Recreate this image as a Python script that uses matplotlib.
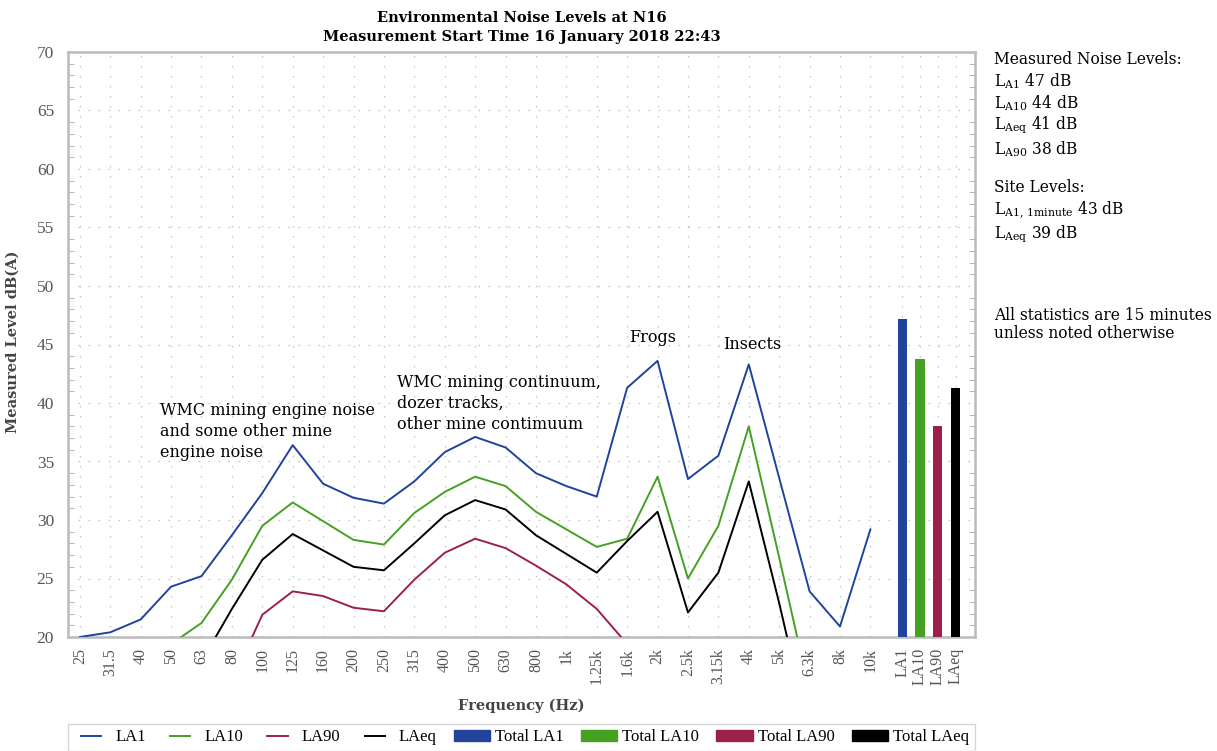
import numpy as np
import matplotlib
matplotlib.use("Agg")
import matplotlib.pyplot as plt
from matplotlib.patches import Patch
from matplotlib.lines import Line2D
from matplotlib.legend_handler import HandlerLine2D
from matplotlib.ticker import MultipleLocator

nan = np.nan
freqs = ['25', '31.5', '40', '50', '63', '80', '100', '125', '160', '200', '250',
         '315', '400', '500', '630', '800', '1k', '1.25k', '1.6k', '2k', '2.5k',
         '3.15k', '4k', '5k', '6.3k', '8k', '10k']
la1 = [20.0, 20.4, 21.5, 24.3, 25.2, 28.7, 32.3, 36.4, 33.1, 31.9, 31.4, 33.3,
       35.8, 37.1, 36.2, 34.0, 32.9, 32.0, 41.3, 43.6, 33.5, 35.5, 43.3, 33.6,
       23.9, 20.9, 29.2]
la10 = [nan, nan, nan, 19.4, 21.2, 24.9, 29.5, 31.5, 29.9, 28.3, 27.9, 30.6,
        32.4, 33.7, 32.9, 30.7, 29.2, 27.7, 28.4, 33.7, 25.0, 29.5, 38.0, 26.8,
        15.3, nan, nan]
la90 = [nan, nan, nan, nan, nan, 16.2, 21.9, 23.9, 23.5, 22.5, 22.2, 24.9,
        27.2, 28.4, 27.6, 26.1, 24.5, 22.4, 19.4, nan, nan, nan, nan, nan,
        nan, nan, nan]
laeq = [nan, nan, nan, nan, 17.9, 22.4, 26.6, 28.8, 27.4, 26.0, 25.7, 28.0,
        30.4, 31.7, 30.9, 28.7, 27.1, 25.5, 28.2, 30.7, 22.1, 25.5, 33.3, 22.9,
        11.7, nan, nan]
total_labels = ['LA1', 'LA10', 'LA90', 'LAeq']
total_values = [47.2, 43.8, 38.0, 41.3]

colors = ['#21439B', '#45A024', '#9C2148', '#000000']
SERIF = 'DejaVu Serif'
plt.rcParams['font.family'] = [SERIF]
plt.rcParams['mathtext.fontset'] = 'dejavuserif'

fig = plt.figure(figsize=(12.17, 7.51), dpi=100)
ax = fig.add_axes([68/1217, 1-637/751, (975-68)/1217, (637-52)/751])

x = np.arange(len(freqs))
bar_x = len(freqs) + np.array([0.05, 0.63, 1.22, 1.81])

series = [la1, la10, la90, laeq]
names = ['LA1', 'LA10', 'LA90', 'LAeq']
for s, c in zip(series, colors):
    ax.plot(x, s, color=c, lw=1.4, zorder=3)
ax.bar(bar_x, total_values, width=0.3, bottom=0, color=colors, zorder=3)

ax.set_xlim(-0.39, 29.44)
ax.set_ylim(20, 70)
allx = list(x) + list(bar_x)
ax.set_xticks(allx)
ax.set_xticklabels(freqs + total_labels, rotation=90, fontsize=11.5,
                   color='#555555', family='Liberation Serif')
ax.yaxis.set_major_locator(MultipleLocator(5))
ax.yaxis.set_minor_locator(MultipleLocator(1))
ax.tick_params(axis='x', length=0, pad=8)
ax.tick_params(axis='y', which='major', length=0, pad=10, labelsize=12.5,
               labelcolor='#555555')
ax.tick_params(axis='y', which='minor', direction='in', length=4,
               color='#aaaaaa', left=True, right=True)
for lab in ax.get_yticklabels():
    lab.set_family('Liberation Serif')
ax.grid(True, which='major', axis='both', color='#c8c8c8', linestyle=(0, (1.2, 6)),
        lw=1.0, zorder=0)
for sp in ax.spines.values():
    sp.set_color('#bbbbbb')
    sp.set_linewidth(1.8)

ax.set_title('Environmental Noise Levels at N16\nMeasurement Start Time 16 January 2018 22:43',
             fontsize=10.5, fontweight='bold', pad=8, linespacing=1.45)
ax.set_ylabel('Measured Level dB(A)', fontsize=10.5, fontweight='bold',
              color='#444444')
ax.yaxis.set_label_coords(-0.053, 0.505)
ax.set_xlabel('Frequency (Hz)', fontsize=10.5, fontweight='bold', color='#444444')
ax.xaxis.set_label_coords(0.5, -0.105)

ann_fs = 11.5
ax.text(2.63, 40.1, 'WMC mining engine noise\nand some other mine\nengine noise',
        fontsize=ann_fs, va='top', ha='left', linespacing=1.3)
ax.text(10.43, 42.5, 'WMC mining continuum,\ndozer tracks,\nother mine contimuum',
        fontsize=ann_fs, va='top', ha='left', linespacing=1.3)
ax.text(18.85, 46.3, 'Frogs', fontsize=ann_fs, va='top', ha='center')
ax.text(22.1, 45.7, 'Insects', fontsize=ann_fs, va='top', ha='center')

# side text
tx = 994/1217
def ft(ypix, s):
    fig.text(tx, 1-ypix/751, s, fontsize=11.2, va='center', ha='left')
ft(59, 'Measured Noise Levels:')
ft(81, r'L$_{\mathrm{A1}}$ 47 dB')
ft(103, r'L$_{\mathrm{A10}}$ 44 dB')
ft(125, r'L$_{\mathrm{Aeq}}$ 41 dB')
ft(149, r'L$_{\mathrm{A90}}$ 38 dB')
ft(187, 'Site Levels:')
ft(210, r'L$_{\mathrm{A1,\,1minute}}$ 43 dB')
ft(234, r'L$_{\mathrm{Aeq}}$ 39 dB')
ft(315, 'All statistics are 15 minutes')
ft(334, 'unless noted otherwise')


class ShortLine(HandlerLine2D):
    def create_artists(self, legend, orig_handle, xdescent, ydescent, width,
                       height, fontsize, trans):
        return super().create_artists(legend, orig_handle, xdescent - width*0.2,
                                      ydescent, width*0.55, height, fontsize, trans)

handles = [Line2D([], [], color=c, lw=1.4) for c in colors]
handles += [Patch(facecolor=c, edgecolor=c) for c in colors]
labels = names + ['Total ' + n for n in total_labels]
hmap = {h: ShortLine() for h in handles[:4]}
leg = ax.legend(handles, labels, ncol=8, loc='upper left',
                bbox_to_anchor=(0, -0.148, 1, 0), mode='expand',
                borderaxespad=0, frameon=True, fancybox=False, handlelength=2.2,
                handletextpad=0.3, borderpad=0.35, handler_map=hmap,
                prop={'family': 'Liberation Serif', 'size': 12})
leg.get_frame().set_edgecolor('#cccccc')
leg.get_frame().set_linewidth(1.0)

fig.savefig('out.png', dpi=100)
